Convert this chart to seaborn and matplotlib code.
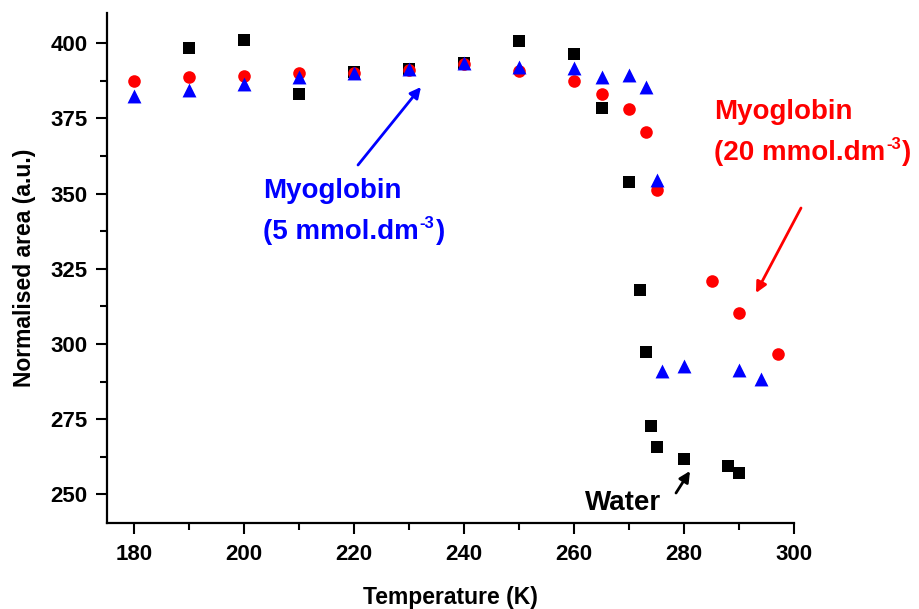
import matplotlib
matplotlib.use("Agg")
import matplotlib.pyplot as plt
import seaborn as sns
import pandas as pd
from matplotlib.ticker import MultipleLocator

# ---- data ----
water_T = [190, 200, 210, 220, 230, 240, 250, 260, 265, 270, 272, 273, 274, 275, 280, 288, 290]
water_A = [398.3, 401.0, 383.0, 390.3, 391.3, 393.3, 400.8, 396.3, 378.6, 353.7, 318.0, 297.3,
           272.7, 265.6, 261.9, 259.4, 257.2]

myo20_T = [180, 190, 200, 210, 220, 230, 240, 250, 260, 265, 270, 273, 275, 285, 290, 297]
myo20_A = [387.5, 388.6, 389.1, 390.0, 390.2, 391.0, 393.0, 390.8, 387.5, 383.0, 378.0, 370.5,
           351.2, 320.8, 310.4, 296.6]

myo5_T = [180, 190, 200, 210, 220, 230, 240, 250, 260, 265, 270, 273, 275, 276, 280, 290, 294]
myo5_A = [382.5, 384.5, 386.4, 388.9, 390.2, 391.5, 393.3, 392.0, 391.6, 388.6, 389.5, 385.5,
          354.4, 291.0, 292.7, 291.4, 288.5]

x_ticks = [180, 200, 220, 240, 260, 280, 300]
y_ticks = [250, 275, 300, 325, 350, 375, 400]

sns.set_theme(style="ticks")
plt.rcParams['font.family'] = ['Liberation Sans', 'DejaVu Sans']
plt.rcParams['font.weight'] = 'bold'

W, H = 919, 609
fig = plt.figure(figsize=(W / 100, H / 100), dpi=100)
ax = fig.add_axes([0.1161, 0.1412, 0.7482, 0.8374])

df_w = pd.DataFrame({"T": water_T, "A": water_A})
df_r = pd.DataFrame({"T": myo20_T, "A": myo20_A})
df_b = pd.DataFrame({"T": myo5_T, "A": myo5_A})

sns.scatterplot(data=df_w, x="T", y="A", marker="s", color="black", s=66, linewidth=0, ax=ax, zorder=3)
sns.scatterplot(data=df_r, x="T", y="A", marker="o", color="#ff0000", s=82, linewidth=0, ax=ax, zorder=4)
sns.scatterplot(data=df_b, x="T", y="A", marker="^", color="#0000ff", s=100, linewidth=0, ax=ax, zorder=5)

ax.set_xlim(175, 300)
ax.set_ylim(240.5, 410)
ax.set_xticks(x_ticks)
ax.set_yticks(y_ticks)
ax.xaxis.set_minor_locator(MultipleLocator(10))
ax.yaxis.set_minor_locator(MultipleLocator(12.5))
ax.tick_params(axis='both', which='major', direction='out', length=8, width=1.5,
               labelsize=16, colors='black')
ax.tick_params(axis='x', which='major', pad=7)
ax.tick_params(axis='y', which='major', pad=6)
ax.tick_params(axis='both', which='minor', direction='out', length=5, width=1.5, colors='black')
for lab in ax.get_xticklabels() + ax.get_yticklabels():
    lab.set_fontweight('bold')

for side in ['top', 'right']:
    ax.spines[side].set_visible(False)
for side in ['left', 'bottom']:
    ax.spines[side].set_linewidth(1.6)
    ax.spines[side].set_color('black')

ax.set_xlabel("Temperature (K)", fontsize=16.5, fontweight='bold', labelpad=15, color='black')
ax.set_ylabel("Normalised area (a.u.)", fontsize=16.5, fontweight='bold', labelpad=10, color='black')


def px(x, y):
    return (x / W, 1 - y / H)


FS = 20
fig.canvas.draw()
renderer = fig.canvas.get_renderer()


def sup_text(x, y, main, sup, tail, color):
    t1 = fig.text(*px(x, y), main, color=color, fontsize=FS, fontweight='bold')
    bb = t1.get_window_extent(renderer)
    x2 = bb.x1 + 1
    t2 = fig.text(x2 / W, (H - y + 11) / H, sup, color=color, fontsize=FS * 0.6, fontweight='bold')
    bb2 = t2.get_window_extent(renderer)
    fig.text((bb2.x1 + 1) / W, (H - y) / H, tail, color=color, fontsize=FS, fontweight='bold')


fig.text(*px(263, 198), "Myoglobin", color="#0000ff", fontsize=FS, fontweight='bold')
sup_text(263, 239, "(5 mmol.dm", "-3", ")", "#0000ff")
fig.text(*px(714, 119), "Myoglobin", color="#ff0000", fontsize=FS, fontweight='bold')
sup_text(714, 160, "(20 mmol.dm", "-3", ")", "#ff0000")
fig.text(*px(585, 510), "Water", color="black", fontsize=FS, fontweight='bold')


def arrow(x0, y0, x1, y1, color):
    ax.annotate("", xy=px(x1, y1), xytext=px(x0, y0), xycoords='figure fraction',
                textcoords='figure fraction',
                arrowprops=dict(arrowstyle='-|>', color=color, lw=2, mutation_scale=16,
                                shrinkA=0, shrinkB=0))


arrow(358, 165, 421, 87, "#0000ff")
arrow(801, 208, 756, 293, "#ff0000")
arrow(676, 493, 690, 471, "black")

fig.savefig("out.png", dpi=100, facecolor='white')
